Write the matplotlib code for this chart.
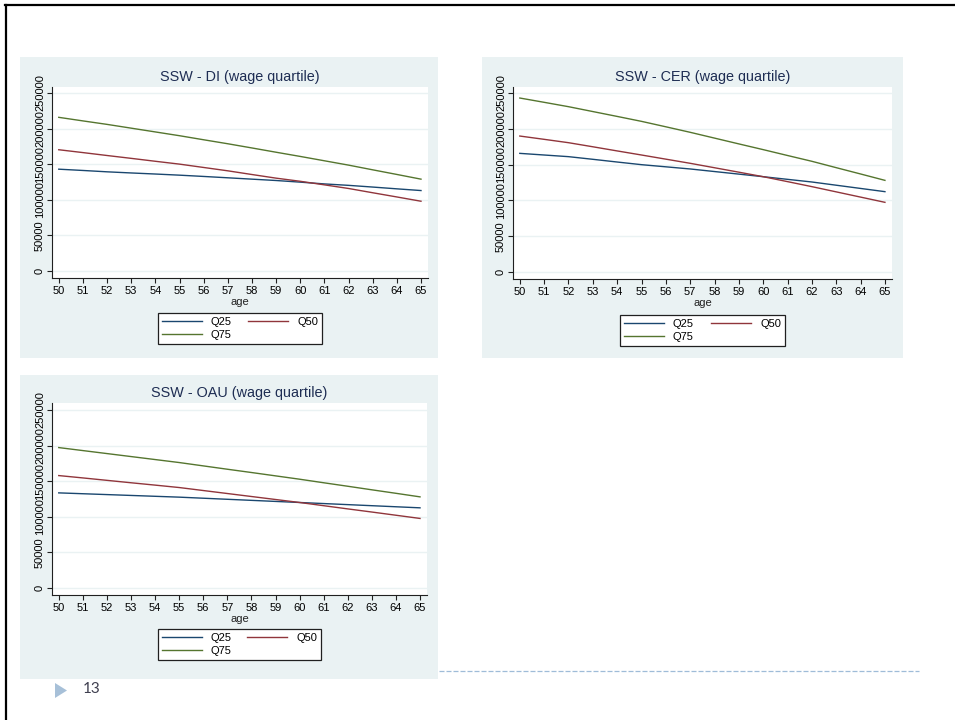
import matplotlib
matplotlib.use("Agg")
import matplotlib.pyplot as plt
from matplotlib.patches import Rectangle, Polygon
from matplotlib.lines import Line2D

# ages on the x axis
ages = list(range(50, 66))

# SSW - DI
di_q25 = [143000, 141200, 139300, 137700, 136200, 134600, 132800, 130900,
          129000, 127100, 124800, 122300, 120300, 117900, 115400, 113000]
di_q50 = [170300, 166300, 162200, 158200, 154100, 150100, 145400, 140700,
          135500, 130400, 126000, 121000, 115900, 109900, 104000, 98000]
di_q75 = [215800, 210800, 205900, 200600, 195300, 190000, 184300, 178700,
          172800, 166800, 160900, 154800, 148700, 142100, 135600, 129000]

# SSW - CER
cer_q25 = [165700, 163400, 161100, 157400, 153600, 149900, 146900, 143900,
           140300, 136700, 133100, 129400, 125700, 121200, 116700, 112200]
cer_q50 = [189900, 185300, 180600, 174900, 169100, 163400, 157600, 151800,
           145600, 139400, 133100, 126200, 119200, 111900, 104600, 97300]
cer_q75 = [243000, 237000, 230900, 224100, 217300, 210400, 202800, 195100,
           187000, 178900, 170900, 162700, 154600, 145700, 136900, 128000]

# SSW - OAU
oau_q25 = [133600, 132400, 131200, 130000, 128800, 127600, 126100, 124600,
           123100, 121600, 120100, 118600, 117100, 115600, 114100, 112600]
oau_q50 = [157900, 154600, 151200, 147800, 144500, 141100, 136900, 132700,
           128500, 124300, 120100, 115600, 111100, 106700, 102200, 97700]
oau_q75 = [197200, 193000, 188800, 184600, 180400, 176200, 171500, 166800,
           162200, 157500, 152800, 147800, 142900, 137900, 133000, 128000]

y_ticks = [0, 50000, 100000, 150000, 200000, 250000]
series_names = ["Q25", "Q50", "Q75"]

W, H = 955, 720
BG = "#eaf2f3"
COLORS = ["#1a476f", "#90353b", "#55752f"]

plt.rcParams["font.family"] = ["Liberation Sans", "DejaVu Sans"]

fig = plt.figure(figsize=(W / 100, H / 100), dpi=100)


def fx(x):
    return x / W


def fy(y):
    return 1 - y / H


def draw_panel(bg, axbox, title, data, ylim, legbox):
    # graph region background
    x0, y0, x1, y1 = bg
    fig.add_artist(Rectangle((fx(x0), fy(y1)), fx(x1 - x0), (y1 - y0) / H,
                             transform=fig.transFigure, color=BG, lw=0, zorder=-2))
    ax_l, ax_t, ax_r, ax_b = axbox
    ax = fig.add_axes([fx(ax_l), fy(ax_b), fx(ax_r - ax_l), (ax_b - ax_t) / H])
    lines = []
    for vals, c, name in zip(data, COLORS, series_names):
        ln, = ax.plot(ages, vals, color=c, lw=1.0, label=name)
        lines.append(ln)
    ax.set_xlim(49.72, 65.29)
    ax.set_ylim(*ylim)
    ax.set_xticks(ages)
    ax.set_yticks(y_ticks)
    ax.set_yticklabels([str(v) for v in y_ticks], rotation=90, va="center")
    ax.grid(axis="y", color=BG, lw=1.0)
    ax.set_axisbelow(True)
    for s in ["top", "right"]:
        ax.spines[s].set_visible(False)
    for s in ["left", "bottom"]:
        ax.spines[s].set_color("#202020")
        ax.spines[s].set_linewidth(0.8)
    ax.tick_params(axis="both", labelsize=8, length=3.5, width=0.8, color="#202020")
    ax.tick_params(axis="x", pad=2.5)
    ax.tick_params(axis="y", pad=1.5)

    cx = (ax_l + ax_r) / 2
    fig.text(fx(cx), fy(77 + (ax_t - 87)), title, ha="center", va="center",
             fontsize=10.4, color="#1e2d53")
    fig.text(fx(cx), fy(ax_b + 24), "age", ha="center", va="center",
             fontsize=8, color="#202020")

    # row-wise legend: Q25 Q50 / Q75
    order = [lines[0], lines[2], lines[1]]
    lx0, ly0, lx1, ly1 = legbox
    leg = ax.legend(order, [l.get_label() for l in order],
                    loc="upper left", ncol=2, mode="expand",
                    bbox_to_anchor=(fx(lx0), fy(ly0), fx(lx1 - lx0), 0),
                    bbox_transform=fig.transFigure, fontsize=8,
                    handlelength=3.6, handletextpad=0.8, borderpad=0.35,
                    labelspacing=0.3, fancybox=False, framealpha=1,
                    edgecolor="#202020", borderaxespad=0)
    leg.get_frame().set_linewidth(0.9)
    return ax


draw_panel((20, 57, 438, 358), (52, 87, 428, 278), "SSW - DI (wage quartile)",
           [di_q25, di_q50, di_q75], (-9800, 258400), (158, 313, 322, 347))
draw_panel((482, 57, 903, 358), (513, 87, 892, 279), "SSW - CER (wage quartile)",
           [cer_q25, cer_q50, cer_q75], (-9800, 258400), (620, 315, 785, 348))
draw_panel((20, 375, 438, 679), (52, 403, 427, 595), "SSW - OAU (wage quartile)",
           [oau_q25, oau_q50, oau_q75], (-9800, 259800), (158, 629, 321, 663))

# slide decorations
fig.add_artist(Line2D([fx(5), 1], [fy(5), fy(5)], transform=fig.transFigure,
                      color="black", lw=1.6))
fig.add_artist(Line2D([fx(6), fx(6)], [fy(5), 0], transform=fig.transFigure,
                      color="black", lw=1.6))
fig.add_artist(Line2D([fx(439), fx(919)], [fy(671), fy(671)], transform=fig.transFigure,
                      color="#9fbcd8", lw=0.9, dashes=(4, 1.6)))
fig.add_artist(Polygon([(fx(55), fy(683)), (fx(55), fy(698)), (fx(67), fy(690.5))],
                       closed=True, transform=fig.transFigure, color="#a7c0d8", lw=0))
fig.text(fx(83), fy(689), "13", ha="left", va="center", fontsize=11,
         color="#3f3f4f", family=["Lato", "DejaVu Sans"])

fig.savefig("out.png", dpi=100)
